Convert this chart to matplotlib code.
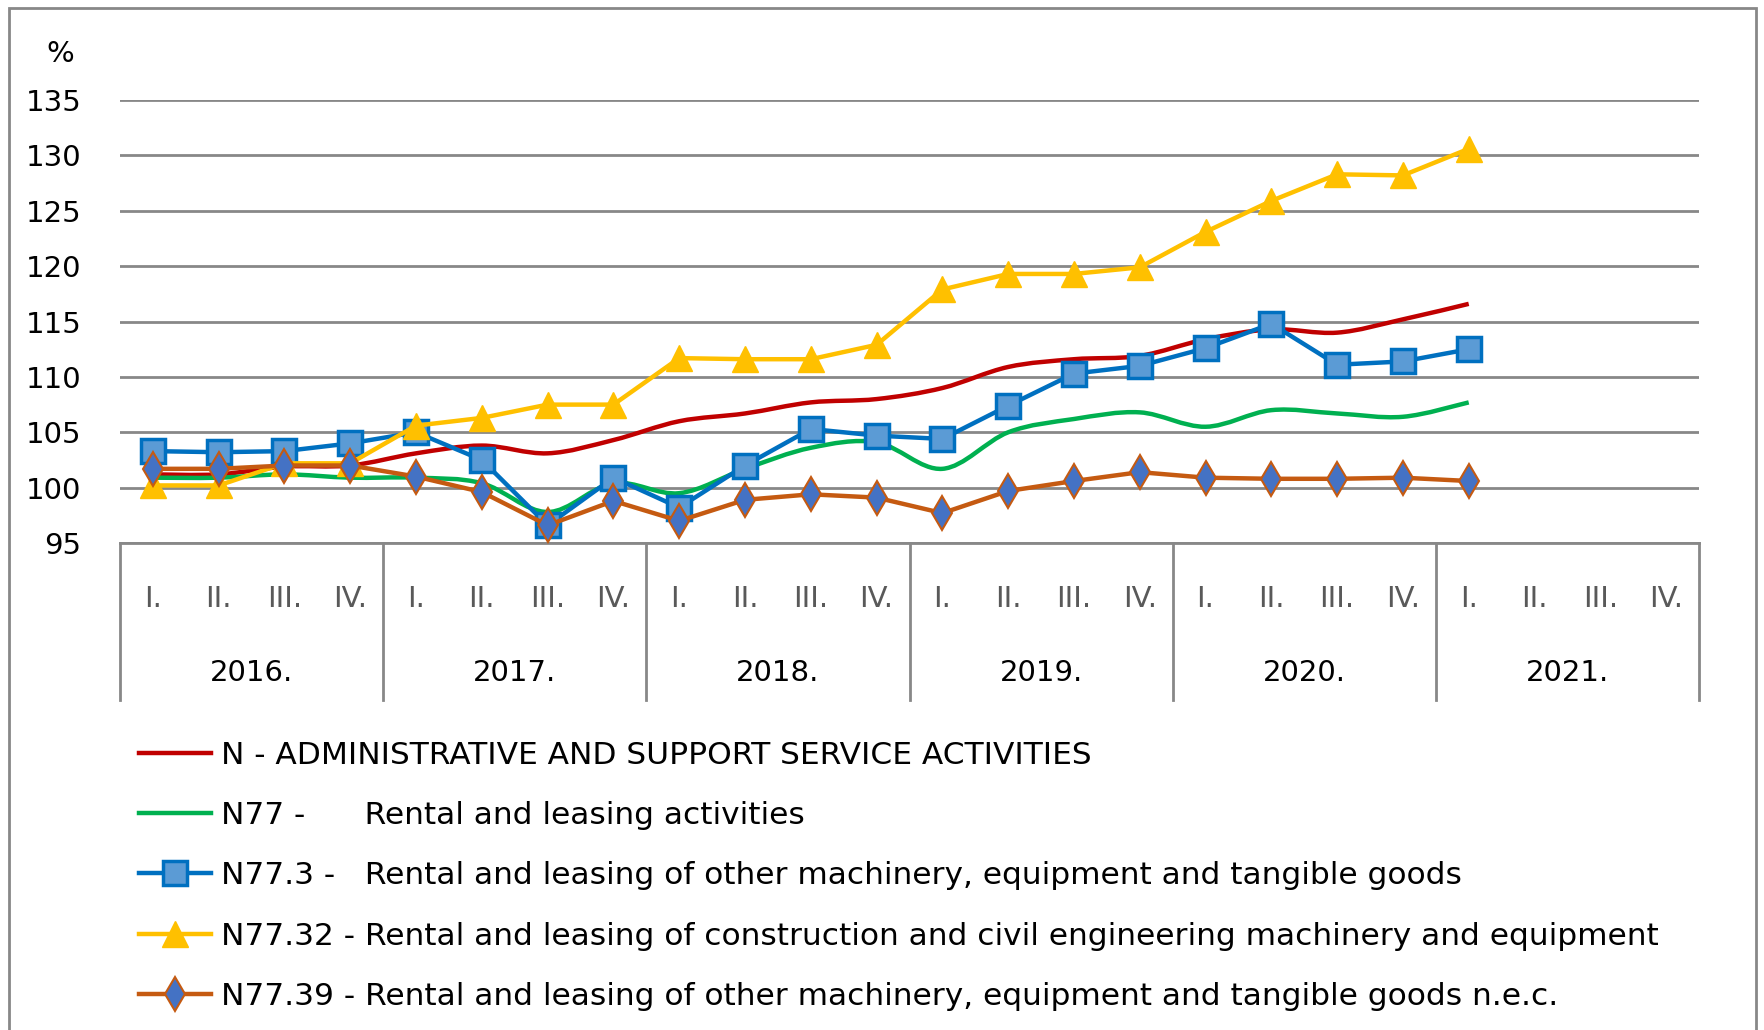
import numpy as np
import matplotlib
matplotlib.use("Agg")
import matplotlib.pyplot as plt
from matplotlib.path import Path
from matplotlib.patches import PathPatch, Rectangle
from matplotlib.lines import Line2D

plt.rcParams['font.family'] = ['DejaVu Sans']

years = ["2016.", "2017.", "2018.", "2019.", "2020.", "2021."]
quarters = ["I.", "II.", "III.", "IV."]

# values, 2016 Q1 .. 2021 Q1
n_admin = [101.2, 101.2, 101.9, 102.0, 103.1, 103.8, 103.1, 104.3,
           106.0, 106.7, 107.7, 108.0, 109.0, 110.9, 111.6, 111.9,
           113.4, 114.3, 114.0, 115.2, 116.6]
n77 = [100.9, 100.9, 101.2, 100.9, 100.9, 100.4, 97.8, 100.4,
       99.5, 101.7, 103.6, 104.1, 101.7, 105.0, 106.2, 106.8,
       105.5, 107.0, 106.7, 106.4, 107.7]
n773 = [103.3, 103.2, 103.3, 104.0, 105.0, 102.5, 96.6, 100.9,
        98.2, 102.0, 105.3, 104.7, 104.4, 107.4, 110.3, 111.0,
        112.6, 114.8, 111.1, 111.4, 112.5]
n7732 = [100.2, 100.2, 102.2, 102.2, 105.6, 106.3, 107.5, 107.5,
         111.7, 111.6, 111.6, 112.9, 117.9, 119.3, 119.3, 119.9,
         123.1, 125.9, 128.3, 128.2, 130.6]
n7739 = [101.7, 101.7, 102.0, 102.0, 101.0, 99.6, 96.6, 98.8,
         97.0, 98.9, 99.4, 99.1, 97.7, 99.7, 100.6, 101.4,
         100.9, 100.8, 100.8, 100.9, 100.6]

labels = ["N - ADMINISTRATIVE AND SUPPORT SERVICE ACTIVITIES",
          "N77 -      Rental and leasing activities",
          "N77.3 -   Rental and leasing of other machinery, equipment and tangible goods",
          "N77.32 - Rental and leasing of construction and civil engineering machinery and equipment",
          "N77.39 - Rental and leasing of other machinery, equipment and tangible goods n.e.c."]


def smooth_path(x, y):
    pts = np.column_stack([x, y]).astype(float)
    verts = [pts[0]]
    codes = [Path.MOVETO]
    n = len(pts)
    for i in range(n - 1):
        p0 = pts[i - 1] if i > 0 else pts[i]
        p1, p2 = pts[i], pts[i + 1]
        p3 = pts[i + 2] if i + 2 < n else pts[i + 1]
        verts += [p1 + (p2 - p0) / 6, p2 - (p3 - p1) / 6, p2]
        codes += [Path.CURVE4] * 3
    return Path(verts, codes)


fig = plt.figure(figsize=(17.65, 10.30), dpi=100)
ax = fig.add_axes([0.068, 0.4728, 0.8946, 0.430])

x = np.arange(len(n_admin))
red, green, blue, yellow, orange = "#C00000", "#00B050", "#0070C0", "#FFC000", "#C55A11"

ax.add_patch(PathPatch(smooth_path(x, n_admin), fill=False, edgecolor=red, lw=3.2, zorder=3))
ax.add_patch(PathPatch(smooth_path(x, n77), fill=False, edgecolor=green, lw=3.2, zorder=3))
ax.plot(x, n773, color=blue, lw=3.2, marker="s", ms=17, mfc="#5B9BD5", mec=blue, mew=2.5, zorder=4)
ax.plot(x, n7732, color=yellow, lw=3.2, marker="^", ms=19, mfc=yellow, mec=yellow, zorder=4)
ax.plot(x, n7739, color=orange, lw=3.2, marker="d", ms=17, mfc="#4472C4", mec=orange, mew=1.5, zorder=5)

ax.set_xlim(-0.5, 23.5)
ax.set_ylim(95, 135)
ax.set_yticks(np.arange(95, 136, 5))
ax.tick_params(axis="y", length=0, labelsize=21, pad=28)
ax.set_xticks([])
for s in ["top", "right", "left"]:
    ax.spines[s].set_visible(False)
ax.spines["bottom"].set_color("#888888")
ax.spines["bottom"].set_linewidth(2)
ax.grid(axis="y", color="#888888", lw=2)
ax.set_axisbelow(True)
ax.text(-0.038, 1.105, "%", transform=ax.transAxes, fontsize=21, ha="center", va="center")

# two-level category axis
for k in range(len(years) + 1):
    ax.plot([k * 4 - 0.5] * 2, [0, -0.354], transform=ax.get_xaxis_transform(),
            color="#888888", lw=2, clip_on=False)
for j, yr in enumerate(years):
    for q, ql in enumerate(quarters):
        ax.text(j * 4 + q, -0.126, ql, transform=ax.get_xaxis_transform(),
                fontsize=21, color="#595959", ha="center", va="center")
    ax.text(j * 4 + 1.5, -0.293, yr, transform=ax.get_xaxis_transform(),
            fontsize=21, ha="center", va="center")

handles = [Line2D([], [], color=red, lw=3.2),
           Line2D([], [], color=green, lw=3.2),
           Line2D([], [], color=blue, lw=3.2, marker="s", ms=17, mfc="#5B9BD5", mec=blue, mew=2.5),
           Line2D([], [], color=yellow, lw=3.2, marker="^", ms=19, mfc=yellow, mec=yellow),
           Line2D([], [], color=orange, lw=3.2, marker="d", ms=17, mfc="#4472C4", mec=orange, mew=1.5)]
fig.legend(handles, labels, loc="upper left", bbox_to_anchor=(0.063, 0.308), frameon=False,
           fontsize=22.5, handlelength=2.3, handletextpad=0.3, labelspacing=1.0)

fig.patches.append(Rectangle((0.005, -0.05), 0.99, 1.042, transform=fig.transFigure,
                             fill=False, edgecolor="#888888", lw=2))

fig.savefig("out.png", dpi=100)
